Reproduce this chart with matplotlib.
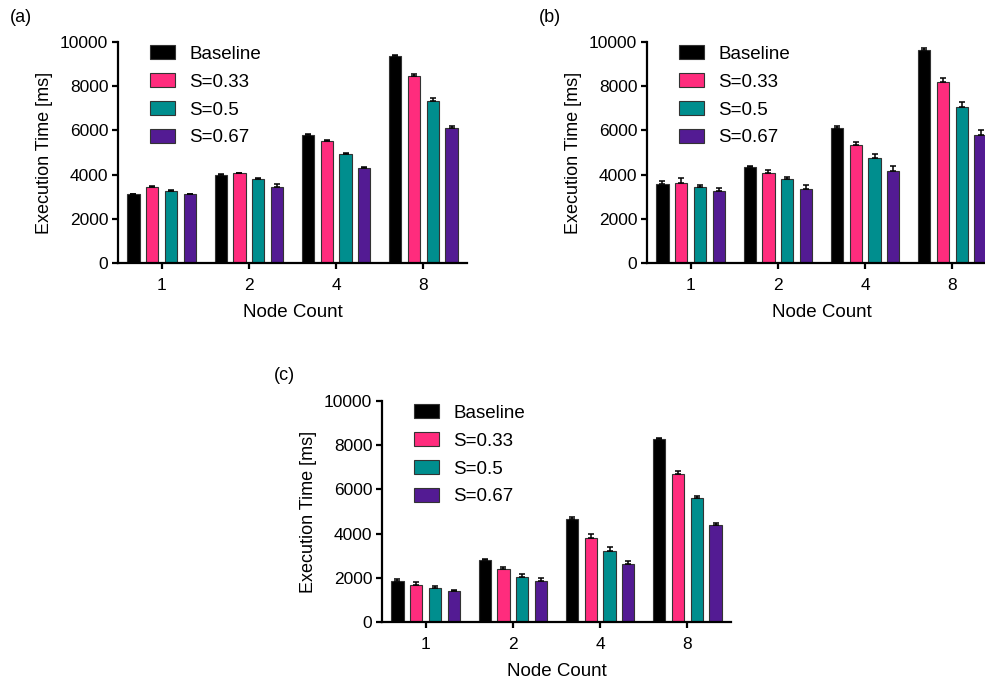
import matplotlib
matplotlib.use("Agg")
import matplotlib.pyplot as plt
import numpy as np

plt.rcParams["font.family"] = ["Liberation Sans", "DejaVu Sans"]

nodes = ["1", "2", "4", "8"]
series = ["Baseline", "S=0.33", "S=0.5", "S=0.67"]
colors = ["#000000", "#FF2C7D", "#008E8E", "#531B93"]

# mean execution times [ms], one row per series, columns = node count
a_mean = [[3100, 3980, 5780, 9380],
          [3430, 4050, 5500, 8460],
          [3250, 3780, 4920, 7350],
          [3100, 3450, 4310, 6110]]
a_err = [[30, 40, 40, 50],
         [70, 40, 70, 90],
         [60, 60, 70, 100],
         [40, 110, 40, 70]]

b_mean = [[3580, 4340, 6110, 9620],
          [3610, 4080, 5360, 8190],
          [3460, 3780, 4770, 7080],
          [3270, 3360, 4170, 5810]]
b_err = [[120, 70, 90, 100],
         [230, 130, 120, 200],
         [90, 120, 140, 220],
         [130, 160, 240, 220]]

c_mean = [[1870, 2820, 4640, 8260],
          [1690, 2400, 3820, 6690],
          [1530, 2040, 3230, 5600],
          [1390, 1840, 2610, 4400]]
c_err = [[60, 45, 90, 60],
         [120, 100, 140, 140],
         [100, 150, 150, 90],
         [75, 150, 140, 100]]

panels = [("(a)", a_mean, a_err, [118, 42]),
          ("(b)", b_mean, b_err, [647, 42]),
          ("(c)", c_mean, c_err, [382, 401])]

W, H = 985, 682
fig = plt.figure(figsize=(W / 100, H / 100), dpi=100)

ax_w, ax_h = 349, 221
step, bw = 0.215, 0.138
x = np.arange(len(nodes))

for tag, means, errs, (left, top) in panels:
    ax = fig.add_axes([left / W, (H - top - ax_h) / H, ax_w / W, ax_h / H])
    for i, (name, col) in enumerate(zip(series, colors)):
        m = np.array(means[i]); e = np.array(errs[i])
        ax.bar(x + (i - 1.5) * step, m, bw, color=col, edgecolor="#333333",
               linewidth=0.8, label=name, zorder=2)
        ax.errorbar(x + (i - 1.5) * step, m, yerr=[np.zeros_like(e), e],
                    fmt="none", ecolor="black", elinewidth=1.1, capsize=2.3,
                    capthick=1.1, zorder=3)
    ax.set_xlim(-0.5, 3.5)
    ax.set_ylim(0, 10000)
    ax.set_yticks(range(0, 10001, 2000))
    ax.set_xticks(x, nodes)
    for s in ("top", "right"):
        ax.spines[s].set_visible(False)
    for s in ("left", "bottom"):
        ax.spines[s].set_linewidth(1.6)
    ax.tick_params(axis="both", direction="out", length=4, width=1.6,
                   labelsize=12.5)
    ax.tick_params(axis="y", pad=3)
    ax.tick_params(axis="x", pad=7)
    ax.set_xlabel("Node Count", fontsize=13.5, labelpad=8)
    ax.set_ylabel("Execution Time [ms]", fontsize=13, labelpad=5)
    ax.legend(loc="upper left", bbox_to_anchor=(0.092, 0.985), frameon=False,
              fontsize=13.5, handlelength=1.35, handleheight=0.75,
              handletextpad=0.75, labelspacing=0.56, borderpad=0,
              borderaxespad=0)
    fig.text((left - 108) / W, 1 - (top - 25) / H, tag, fontsize=13,
             ha="left", va="center")

fig.savefig("out.png", dpi=100)
